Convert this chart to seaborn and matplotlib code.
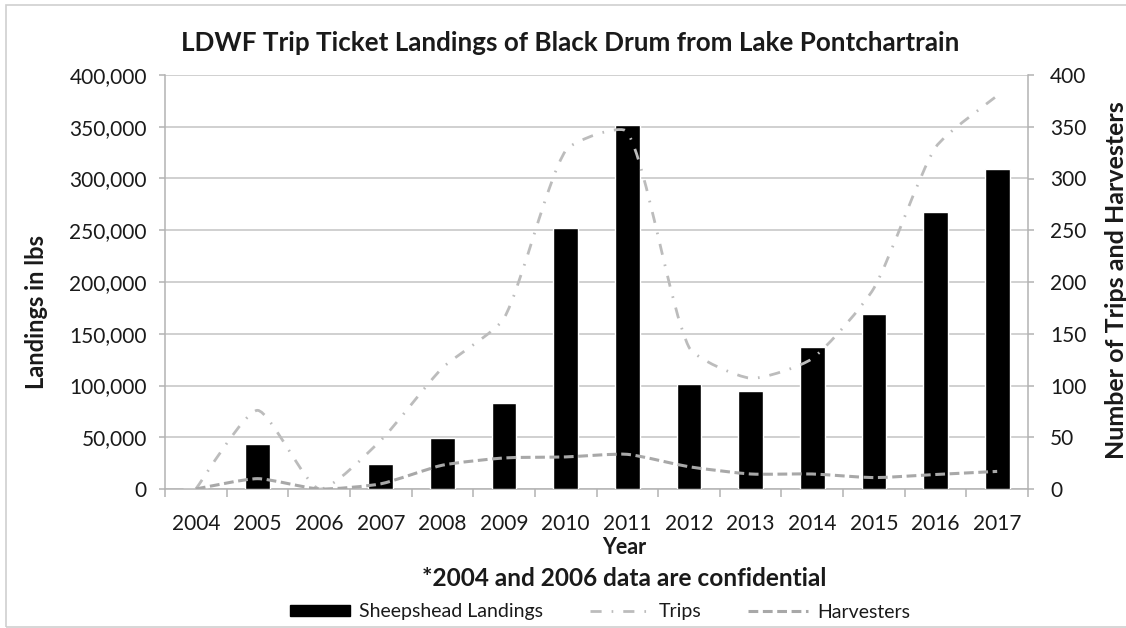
import numpy as np
import pandas as pd
import matplotlib
matplotlib.use("Agg")
import matplotlib.pyplot as plt
from matplotlib.path import Path
from matplotlib.patches import PathPatch, Rectangle, Patch
from matplotlib.lines import Line2D
from matplotlib.ticker import FuncFormatter, MultipleLocator
import seaborn as sns

# ---- data -------------------------------------------------------------
years = ["2004", "2005", "2006", "2007", "2008", "2009", "2010",
         "2011", "2012", "2013", "2014", "2015", "2016", "2017"]
landings = [0, 43200, 0, 23900, 49000, 83400, 251900,
            351700, 101400, 94700, 137500, 169000, 267300, 308900]
trips = [0, 76, 0, 47, 117, 165, 327, 345, 137, 107, 126, 194, 330, 380]
harvesters = [0, 10, 0, 5, 23, 30, 31, 33.5, 21.5, 14.5, 14.5, 11, 14, 17]

title = "LDWF Trip Ticket Landings of Black Drum from Lake Pontchartrain"
note = "*2004 and 2006 data are confidential"

# ---- style ------------------------------------------------------------
sns.set_theme(style="white")
plt.rcParams["font.family"] = ["Lato", "DejaVu Sans"]
TXT = "#1a1a1a"
GRID = "#c4c4c4"
AXIS = "#b3b3b3"
TRIP_C = "#bcbcbc"
HARV_C = "#a8a8a8"
TRIP_DASH = (0, (4.0, 3.6, 0.6, 3.6))
HARV_DASH = (0, (3.2, 1.5))
SMOOTH = 0.2   # bezier handle factor

W, H = 1126, 628
fig = plt.figure(figsize=(W / 100, H / 100), dpi=100)
fig.patch.set_facecolor("white")

x0, x1, y0, y1 = 165, 1028, 75, 489
ax = fig.add_axes([x0 / W, 1 - y1 / H, (x1 - x0) / W, (y1 - y0) / H])

df = pd.DataFrame({"year": years, "landings": landings})
sns.barplot(data=df, x="year", y="landings", color="black", saturation=1,
            width=0.4, ax=ax, zorder=3)
ax.set_xlabel("")
ax.set_ylabel("")
ax.set_xlim(-0.5, len(years) - 0.5)
ax.set_ylim(0, 400000)
ax.yaxis.set_major_locator(MultipleLocator(50000))
ax.yaxis.set_major_formatter(FuncFormatter(lambda v, p: f"{int(v):,}"))
ax.grid(axis="y", color=GRID, lw=1.1)
ax.set_axisbelow(True)

for side in ["left", "right", "bottom"]:
    ax.spines[side].set_color(AXIS)
    ax.spines[side].set_linewidth(1.1)
ax.spines["top"].set_visible(False)

ax.tick_params(axis="y", which="major", length=4, width=1.1, color=AXIS,
               pad=9, labelsize=15, labelcolor=TXT, left=True)
ax.set_xticks(range(len(years)))
ax.set_xticklabels(years)
ax.tick_params(axis="x", which="major", length=0, pad=18, labelsize=15,
               labelcolor=TXT)
ax.set_xticks(np.arange(-0.5, len(years), 1.0), minor=True)
ax.tick_params(axis="x", which="minor", length=6, width=1.1, color=AXIS,
               bottom=True, direction="out")

# secondary axis for trips and harvesters
ax2 = ax.twinx()
ax2.set_ylim(0, 400)
ax2.yaxis.set_major_locator(MultipleLocator(50))
for side in ["left", "right", "bottom", "top"]:
    ax2.spines[side].set_visible(False)
ax2.tick_params(axis="y", which="major", length=4, width=1.1, color=AXIS,
                pad=12, labelsize=15, labelcolor=TXT, right=True)
ax2.grid(False)


def smooth_path(axis, xs, ys, k=SMOOTH):
    """Bezier curve through every point; handle lengths are weighted by
    the on-screen length of the neighbouring segments."""
    pts = np.column_stack([xs, ys]).astype(float)
    scr = axis.transData.transform(pts)
    n = len(pts)
    verts = [pts[0]]
    codes = [Path.MOVETO]

    def dist(a, b):
        return float(np.hypot(*(scr[a] - scr[b])))

    for i in range(n - 1):
        i0 = max(i - 1, 0)
        i3 = min(i + 2, n - 1)
        d01, d12, d23 = dist(i0, i), dist(i, i + 1), dist(i + 1, i3)
        f1 = 2 * d12 / (d01 + d12) if d01 + d12 > 0 else 1.0
        f2 = 2 * d12 / (d12 + d23) if d12 + d23 > 0 else 1.0
        if i == 0:
            f1 = 1.0
        if i + 2 > n - 1:
            f2 = 1.0
        c1 = pts[i] + (pts[i + 1] - pts[i0]) * f1 * k / 2
        c2 = pts[i + 1] - (pts[i3] - pts[i]) * f2 * k / 2
        verts += [c1, c2, pts[i + 1]]
        codes += [Path.CURVE4] * 3
    return Path(verts, codes)


xpos = np.arange(len(years))
ax2.add_patch(PathPatch(smooth_path(ax2, xpos, trips), fill=False,
                        edgecolor=TRIP_C, lw=2.0, linestyle=TRIP_DASH,
                        capstyle="butt", zorder=4))
ax2.add_patch(PathPatch(smooth_path(ax2, xpos, harvesters), fill=False,
                        edgecolor=HARV_C, lw=2.2, linestyle=HARV_DASH,
                        capstyle="butt", zorder=4))

# ---- texts ------------------------------------------------------------
fig.text(570 / W, 1 - 43 / H, title, ha="center", va="center",
         fontsize=18.7, fontweight="bold", color=TXT)
fig.text(37 / W, 1 - 312 / H, "Landings in lbs", rotation=90, ha="center",
         va="center", fontsize=17, fontweight="bold", color=TXT)
fig.text(1116 / W, 1 - 280 / H, "Number of Trips and Harvesters", rotation=90,
         ha="center", va="center", fontsize=18, fontweight="bold", color=TXT)
fig.text(624 / W, 1 - 547 / H, "Year", ha="center", va="center",
         fontsize=15.5, fontweight="bold", color=TXT)
fig.text(624 / W, 1 - 578 / H, note, ha="center", va="center",
         fontsize=17.6, fontweight="bold", color=TXT)

handles = [
    Patch(facecolor="black", edgecolor="black", label="Sheepshead Landings"),
    Line2D([], [], color=TRIP_C, lw=2.0, linestyle=TRIP_DASH,
           dash_capstyle="butt", label="Trips"),
    Line2D([], [], color=HARV_C, lw=2.2, linestyle=HARV_DASH,
           dash_capstyle="butt", label="Harvesters"),
]
fig.legend(handles=handles, loc="center", bbox_to_anchor=(600 / W, 1 - 612 / H),
           ncol=3, frameon=False, fontsize=14, handlelength=3.1,
           handleheight=0.55, handletextpad=0.45, columnspacing=2.4,
           labelcolor=TXT)

# thin frame around the chart area
fig.patches.append(Rectangle((6 / W, 1 / H), 1.2, 1 - 6 / H, fill=False,
                             edgecolor="#cfcfcf", lw=1.2,
                             transform=fig.transFigure, figure=fig))

fig.savefig("out.png", dpi=100, facecolor="white")
